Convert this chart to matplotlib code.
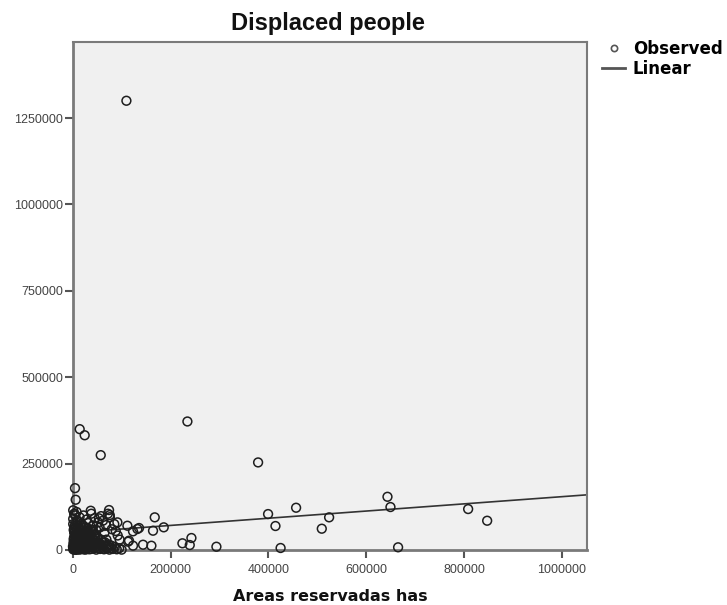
import matplotlib
matplotlib.use("Agg")
import matplotlib.pyplot as plt
from matplotlib.lines import Line2D
import numpy as np

# ---- data ----
# scattered, clearly visible points (x = Areas reservadas has, y = displaced people)
outer_x = [109800, 14300, 24500, 57300, 234500, 379000, 643500, 649600, 808400, 847300,
           399400, 414500, 456700, 509200, 524200, 293800, 425000, 665200, 242700, 224300,
           239300, 4700, 6100, 167700, 164200, 186100, 123300, 135600, 113100, 123300,
           143800, 160900, 111800, 132300, 115100, 91400, 74300, 75700, 36800, 53800, 4100]
outer_y = [1300000, 349700, 332000, 274500, 371900, 253400, 154000, 124300, 118500, 84700,
           104000, 69400, 122300, 61600, 94500, 9500, 5800, 7800, 34700, 19400,
           14400, 179000, 145400, 94500, 55800, 65600, 54000, 63600, 24000, 12400,
           15300, 12400, 70200, 60700, 26900, 80000, 115600, 101100, 113600, 91600, 104000]

# dense cluster near the origin (values in thousands)
cluster_x_k = [1, 2, 3, 4, 5, 6, 7, 8, 9, 10, 11, 12, 13, 14, 15, 16, 17, 18, 19, 20,
               21, 22, 23, 24, 25, 26, 27, 28, 29, 30, 31, 32, 33, 34, 35, 36, 37, 38, 39, 40,
               42, 44, 46, 48, 50, 52, 54, 56, 58, 60, 62, 64, 66, 68, 70, 72, 75, 78, 82, 86,
               90, 95, 100, 2, 3, 4, 1, 5, 8, 10, 12, 14, 18, 20, 22, 26, 28, 32, 35, 38,
               42, 45, 48, 52, 55, 58, 62, 65, 68, 72, 76, 80, 85, 88, 92, 96, 6, 16, 24, 44,
               1, 3, 8,
               0.5, 1.5, 2.5, 3.5, 4.5, 5.5, 6.5, 7.5, 9.5, 11.5, 13.5, 15.5, 17.5, 19.5, 21.5,
               23.5, 25.5, 27.5, 29.5, 31.5, 33.5, 35.5, 37.5, 41, 43, 45, 47, 49, 51, 53,
               2, 4, 6, 8, 10, 12, 14, 16, 18, 20, 22, 24, 26, 28, 30, 34, 38, 42, 46, 50,
               1, 3, 5, 7, 9, 11, 13, 15, 17, 19, 23, 27, 31, 36, 41, 57, 63, 69, 74, 80]
cluster_y_k = [2, 5, 1, 8, 3, 12, 0.5, 6, 15, 2, 20, 4, 9, 1, 25, 7, 3, 11, 30, 5,
               14, 2, 18, 8, 35, 1, 22, 10, 4, 40, 16, 6, 28, 2, 12, 45, 20, 3, 9, 33,
               15, 5, 25, 1, 38, 10, 18, 3, 30, 7, 14, 2, 22, 9, 4, 12, 1, 6, 3, 8,
               2, 5, 1, 30, 50, 70, 90, 100, 60, 85, 45, 95, 75, 55, 100, 65, 88, 78, 60, 105,
               70, 92, 58, 80, 65, 98, 85, 50, 72, 105, 95, 60, 75, 55, 42, 30, 40, 40, 48, 45,
               115, 105, 110,
               10, 20, 35, 15, 25, 45, 30, 18, 40, 28, 50, 38, 22, 48, 33,
               12, 42, 20, 55, 10, 36, 24, 15, 8, 28, 18, 40, 12, 22, 6,
               58, 40, 65, 22, 50, 32, 62, 26, 44, 36, 70, 20, 52, 30, 62, 46, 26, 52, 34, 22,
               75, 62, 55, 80, 48, 68, 35, 58, 42, 65, 28, 50, 38, 25, 58, 14, 20, 30, 16, 12]

# linear fit shown in the chart
fit_intercept = 50300
fit_slope = 0.104

x_ticks = [0, 200000, 400000, 600000, 800000, 1000000]
y_ticks = [0, 250000, 500000, 750000, 1000000, 1250000]
x_max = 1052000
y_max = 1470000

area_has = outer_x + [v * 1000 for v in cluster_x_k]
displaced = outer_y + [v * 1000 for v in cluster_y_k]

# ---- figure ----
W, H = 727, 605
fig = plt.figure(figsize=(W / 100, H / 100), dpi=100)
ax = fig.add_axes([72.7 / W, 1 - 550 / H, (587.3 - 72.7) / W, (550 - 42) / H])
ax.set_facecolor("#f0f0f0")

ax.scatter(area_has, displaced, s=40, facecolors="none", edgecolors="#1e1e1e",
           linewidths=1.1, zorder=3, clip_on=False)
xx = np.array([0, x_max])
ax.plot(xx, fit_intercept + fit_slope * xx, color="#333333", lw=1.2, zorder=2)

ax.set_xlim(0, x_max)
ax.set_ylim(0, y_max)
ax.set_xticks(x_ticks)
ax.set_yticks(y_ticks)
ax.set_xticklabels([str(t) for t in x_ticks])
ax.set_yticklabels([str(t) for t in y_ticks])
for lab in ax.get_xticklabels() + ax.get_yticklabels():
    lab.set_fontfamily("Liberation Sans")
    lab.set_fontsize(9)
    lab.set_color("#444444")
ax.tick_params(axis="both", direction="out", length=6, width=1.5, color="#555555", pad=1)
ax.tick_params(axis="x", pad=4)

for side in ["left", "bottom"]:
    ax.spines[side].set_color("#7a7a7a")
    ax.spines[side].set_linewidth(2.0)
for side in ["top", "right"]:
    ax.spines[side].set_color("#7a7a7a")
    ax.spines[side].set_linewidth(1.5)

fig.text(328 / W, 1 - 30 / H, "Displaced people", ha="center", va="baseline",
         fontsize=17, fontweight="bold", family="Liberation Sans", color="#111111")
fig.text(330 / W, 1 - 601 / H, "Areas reservadas has", ha="center", va="baseline",
         fontsize=11.5, fontweight="bold", family="DejaVu Sans", color="#111111")

handles = [Line2D([], [], ls="none", marker="o", markersize=4.5, mfc="none",
                  mec="#555555", mew=1.2),
           Line2D([], [], color="#555555", lw=2)]
fig.legend(handles, ["Observed", "Linear"], loc="upper left",
           bbox_to_anchor=(602 / W, 1 - 40 / H), frameon=False, borderpad=0,
           borderaxespad=0, handlelength=1.4, handletextpad=0.45, labelspacing=0.1,
           prop={"family": "DejaVu Sans", "weight": "bold", "size": 12})

fig.savefig("out.png", dpi=100)
